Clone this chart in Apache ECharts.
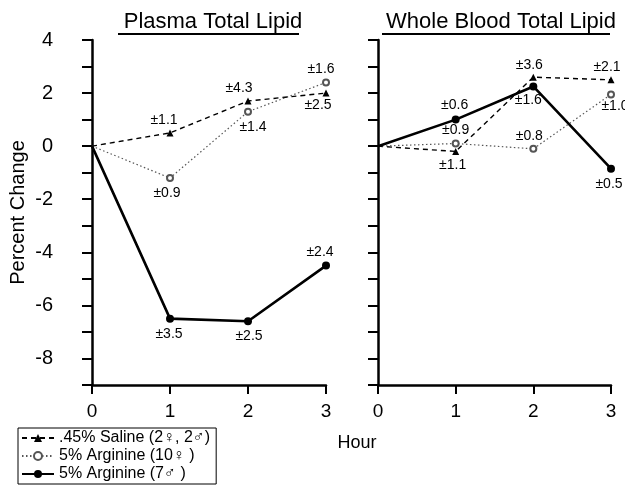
<!DOCTYPE html>
<html><head><meta charset="utf-8">
<script src="https://cdn.jsdelivr.net/npm/echarts@6/dist/echarts.min.js"></script>
<style>html,body{margin:0;padding:0;background:#fff}#c{width:625px;height:488px}</style>
</head><body><div id="c"></div>
<script>
// ---- data ----
const hours = [0, 1, 2, 3];
const seriesNames = ['.45% Saline (2\u2640, 2\u2642)', '5% Arginine (10\u2640 )', '5% Arginine (7\u2642 )'];
const panelTitles = ['Plasma Total Lipid', 'Whole Blood Total Lipid'];
const yTickLabels = [4, 2, 0, -2, -4, -6, -8];

const plasmaSaline = [0, 0.5, 1.7, 2.0];
const plasmaArgF   = [0, -1.2, 1.3, 2.4];
const plasmaArgM   = [0, -6.5, -6.6, -4.5];
const bloodSaline  = [0, -0.2, 2.6, 2.5];
const bloodArgF    = [0, 0.1, -0.1, 1.95];
const bloodArgM    = [0, 1.0, 2.25, -0.85];

const plasmaSalineSD = ['', '1.1', '4.3', '2.5'];
const plasmaArgFSD   = ['', '0.9', '1.4', '1.6'];
const plasmaArgMSD   = ['', '3.5', '2.5', '2.4'];
const bloodSalineSD  = ['', '1.1', '3.6', '2.1'];
const bloodArgFSD    = ['', '0.9', '0.8', '1.0'];
const bloodArgMSD    = ['', '0.6', '1.6', '0.5'];

// ---- label placement (style only) ----
const place = {
  pS: [null, ['top', [-6, 2]], ['top', [-9, 2]], ['bottom', [-8, -2]]],
  pF: [null, ['bottom', [-3, 0]], ['bottom', [5, 0]], ['top', [-5, 2]]],
  pM: [null, ['bottom', [-1, 0]], ['bottom', [1, 0]], ['top', [-6, 2]]],
  bS: [null, ['bottom', [-3, -1]], ['top', [-4, 2]], ['top', [-4, 2]]],
  bF: [null, ['top', [0, 2]], ['top', [-4, 2]], ['bottom', [4, -3]]],
  bM: [null, ['top', [-1, 1]], ['bottom', [-5, -1]], ['bottom', [-2, 0]]]
};

const FONT = '"Liberation Sans", "DejaVu Sans", Arial, sans-serif';

function pts(vals, sd, pl) {
  return hours.map((h, i) => {
    const d = { value: [h, vals[i]] };
    if (i === 0) d.symbol = 'none';
    if (sd[i]) {
      d.label = { show: true, formatter: '\u00b1' + sd[i], position: pl[i][0], offset: pl[i][1] };
    }
    return d;
  });
}

const styles = [
  { symbol: 'triangle', symbolSize: 7, lineStyle: { type: [5, 4], width: 1.4, color: '#000' }, itemStyle: { color: '#000' } },
  { symbol: 'emptyCircle', symbolSize: 6, lineStyle: { type: [1.5, 2.5], width: 1.2, color: '#555' }, itemStyle: { color: '#555', borderColor: '#555', borderWidth: 1 } },
  { symbol: 'circle', symbolSize: 8, lineStyle: { type: 'solid', width: 2.6, color: '#000' }, itemStyle: { color: '#000' } }
];

function mk(idx, grid, vals, sd, pl) {
  return Object.assign({
    name: seriesNames[idx], type: 'line', xAxisIndex: grid, yAxisIndex: grid,
    data: pts(vals, sd, pl), z: 3 + idx,
    label: { color: '#000', fontSize: 14, fontFamily: FONT, distance: 4 },
    emphasis: { disabled: true }, animation: false
  }, styles[idx]);
}

function xAx(g) {
  return {
    type: 'value', gridIndex: g, min: 0, max: 3, interval: 1,
    axisLine: { show: true, onZero: false, lineStyle: { color: '#000', width: 2.5 } },
    axisTick: { show: true, length: 9, lineStyle: { color: '#000', width: 2 } },
    axisLabel: { color: '#000', fontSize: 19, fontFamily: FONT, margin: 17 },
    splitLine: { show: false }
  };
}
function yAx(g, showLabels) {
  return {
    type: 'value', gridIndex: g, min: -9, max: 4, interval: 1,
    axisLine: { show: true, onZero: false, lineStyle: { color: '#000', width: 2.5 } },
    axisTick: { show: true, length: 10, lineStyle: { color: '#000', width: 2 } },
    axisLabel: {
      show: showLabels, color: '#000', fontSize: 20, fontFamily: FONT, margin: 39,
      formatter: v => (yTickLabels.indexOf(v) >= 0 ? String(v) : '')
    },
    splitLine: { show: false },
    name: showLabels ? 'Percent Change' : '',
    nameLocation: 'middle', nameGap: 64, nameRotate: 90,
    nameTextStyle: { color: '#000', fontSize: 20, fontFamily: FONT }
  };
}

const option = {
  backgroundColor: '#fff',
  animation: false,
  title: [
    { text: panelTitles[0], left: 208, top: 6, textAlign: 'center', textStyle: { fontSize: 22, fontWeight: 'normal', fontFamily: FONT, color: '#000' } },
    { text: panelTitles[1], left: 496, top: 6, textAlign: 'center', textStyle: { fontSize: 22, fontWeight: 'normal', fontFamily: FONT, color: '#000' } },
    { text: 'Hour', left: 352, top: 429, textAlign: 'center', textStyle: { fontSize: 18, fontWeight: 'normal', fontFamily: FONT, color: '#000' } }
  ],
  graphic: [
    { type: 'line', shape: { x1: 118, y1: 34, x2: 299, y2: 34 }, style: { stroke: '#000', lineWidth: 1.8 } },
    { type: 'line', shape: { x1: 382, y1: 34, x2: 610, y2: 34 }, style: { stroke: '#000', lineWidth: 1.8 } }
  ],
  legend: {
    data: seriesNames, orient: 'vertical', left: 18, top: 428,
    padding: [2, 6, 2, 3], itemGap: 2, itemWidth: 32, itemHeight: 10,
    borderColor: '#000', borderWidth: 1, borderRadius: 0,
    textStyle: { fontSize: 16, fontFamily: FONT, color: '#000' },
    selectedMode: false
  },
  grid: [
    { left: 92, right: 299, top: 40, bottom: 103, outerBoundsMode: 'none' },
    { left: 378, right: 14, top: 40, bottom: 103, outerBoundsMode: 'none' }
  ],
  xAxis: [xAx(0), xAx(1)],
  yAxis: [yAx(0, true), yAx(1, false)],
  series: [
    mk(0, 0, plasmaSaline, plasmaSalineSD, place.pS),
    mk(1, 0, plasmaArgF, plasmaArgFSD, place.pF),
    mk(2, 0, plasmaArgM, plasmaArgMSD, place.pM),
    mk(0, 1, bloodSaline, bloodSalineSD, place.bS),
    mk(1, 1, bloodArgF, bloodArgFSD, place.bF),
    mk(2, 1, bloodArgM, bloodArgMSD, place.bM)
  ]
};
const chart = echarts.init(document.getElementById('c'), null, { renderer: 'canvas' });
chart.setOption(option);
</script>
</body></html>
